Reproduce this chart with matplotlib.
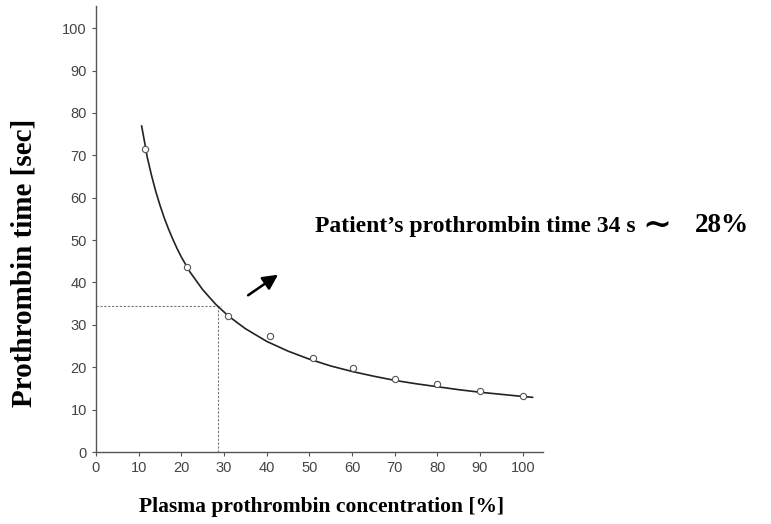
import numpy as np
import matplotlib
matplotlib.use("Agg")
import matplotlib.pyplot as plt

# measured points
conc_pts = [11.6, 21.3, 31.0, 40.7, 50.9, 60.2, 70.0, 79.8, 89.9, 100.0]
time_pts = [71.5, 43.6, 32.1, 27.4, 22.2, 19.8, 17.2, 16.0, 14.5, 13.2]

# fitted curve
curve_x = [10.7, 11.5, 12, 13, 14, 15, 16, 17, 18, 19, 20, 22, 25, 28, 31, 35, 40, 45,
           50, 55, 60, 65, 70, 75, 80, 85, 90, 95, 100, 102.3]
curve_y = [76.9, 72.5, 69.6, 65.3, 61.5, 58.2, 55.2, 52.6, 50.2, 48.0, 46.0, 42.5, 38.3,
           34.9, 32.1, 29.1, 26.1, 23.8, 21.9, 20.3, 19.0, 17.9, 16.9, 16.1, 15.4, 14.7,
           14.1, 13.6, 13.1, 12.9]

patient_time = 34.5
patient_conc = 28.6

x_ticks = [0, 10, 20, 30, 40, 50, 60, 70, 80, 90, 100]
y_ticks = [0, 10, 20, 30, 40, 50, 60, 70, 80, 90, 100]

note_parts = ["Patient\u2019s prothrombin time 34 s", "\u223c", "28%"]

serif = ["Liberation Serif", "DejaVu Serif"]

fig = plt.figure(figsize=(7.71, 5.24), dpi=100)
ax = fig.add_axes([0.1245, 0.1374, 0.5795, 0.851])

ax.plot(curve_x, curve_y, color="#222222", lw=1.2, zorder=2)
ax.plot(conc_pts, time_pts, linestyle="none", marker="o", markersize=4.5,
        markerfacecolor="white", markeredgecolor="#555555", markeredgewidth=0.8, zorder=3)

ax.plot([0, 29.3], [patient_time, patient_time], color="#777777", lw=0.8,
        linestyle=(0, (2, 1.5)), zorder=1)
ax.plot([patient_conc, patient_conc], [0, patient_time], color="#777777", lw=0.8,
        linestyle=(0, (2, 1.5)), zorder=1)

ax.annotate("", xy=(43.2, 42.2), xytext=(35.1, 36.6),
            arrowprops=dict(arrowstyle="-|>,head_length=0.9,head_width=0.45",
                        color="black", lw=1.8))

ax.text(51.3, 51.9, note_parts[0], family=serif, fontweight="bold", fontsize=17,
        ha="left", va="baseline", clip_on=False)
ax.text(128.0, 51.3, note_parts[1], family=["DejaVu Serif"], fontweight="bold",
        fontsize=25, ha="left", va="baseline", clip_on=False)
ax.text(140.3, 51.9, note_parts[2], family=serif, fontweight="bold", fontsize=19.5,
        ha="left", va="baseline", clip_on=False)

ax.set_xlim(0, 104.7)
ax.set_ylim(0, 105.2)
ax.set_xticks(x_ticks)
ax.set_yticks(y_ticks)
for s in ["top", "right"]:
    ax.spines[s].set_visible(False)
for s in ["left", "bottom"]:
    ax.spines[s].set_color("#555555")
    ax.spines[s].set_linewidth(1.0)
ax.tick_params(axis="both", colors="#555555", labelcolor="#444444", length=3,
               width=0.8, labelsize=10.5)
for lab in ax.get_xticklabels() + ax.get_yticklabels():
    lab.set_fontfamily("Liberation Sans")

ax.set_xlabel("Plasma prothrombin concentration [%]", family=serif,
              fontweight="bold", fontsize=15.5)
ax.xaxis.set_label_coords(0.505, -0.10)
ax.set_ylabel("Prothrombin time [sec]", family=serif,
              fontweight="bold", fontsize=21)
ax.yaxis.set_label_coords(-0.13, 0.425)

fig.savefig("out.png", dpi=100)
